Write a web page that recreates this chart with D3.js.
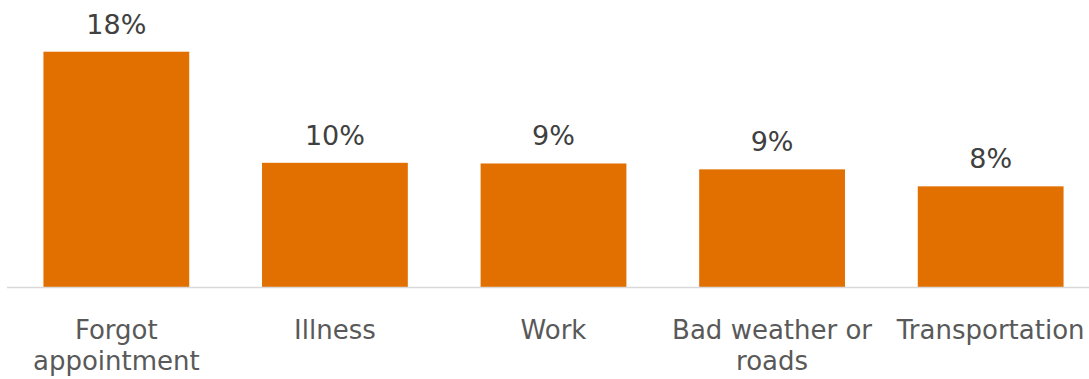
<!DOCTYPE html>
<html>
<head>
<meta charset="utf-8">
<script src="https://cdn.jsdelivr.net/npm/d3@7"></script>
<style>
  html, body { margin: 0; padding: 0; background: #ffffff; }
  svg { display: block; }
</style>
</head>
<body>
<svg id="chart" width="1089" height="379"></svg>
<script>
// Reasons for missed appointments (share of respondents, %)
const categories = ["Forgot appointment", "Illness", "Work", "Bad weather or roads", "Transportation"];
const labelLines = [["Forgot", "appointment"], ["Illness"], ["Work"], ["Bad weather or", "roads"], ["Transportation"]];
const values = [18.0, 9.5, 9.45, 9.0, 7.7];

const width = 1089, height = 379;
const baseline = 287;

const svg = d3.select("#chart");

const x = d3.scaleBand()
  .domain(categories)
  .range([7, 1100])
  .paddingInner(0.333)
  .paddingOuter(0.1667);

const y = d3.scaleLinear()
  .domain([0, 18])
  .range([baseline, 51.7]);

// Bars
svg.append("g")
  .selectAll("rect")
  .data(values)
  .join("rect")
  .attr("x", (d, i) => x(categories[i]))
  .attr("y", d => y(d))
  .attr("width", x.bandwidth())
  .attr("height", d => baseline - y(d))
  .attr("fill", "#e17000");

// Baseline axis
svg.append("line")
  .attr("x1", 7)
  .attr("x2", width)
  .attr("y1", baseline + 0.5)
  .attr("y2", baseline + 0.5)
  .attr("stroke", "#d9d9d9")
  .attr("stroke-width", 1.5);

// Value labels
svg.append("g")
  .selectAll("text")
  .data(values)
  .join("text")
  .attr("x", (d, i) => x(categories[i]) + x.bandwidth() / 2)
  .attr("y", d => y(d) - 18)
  .attr("text-anchor", "middle")
  .attr("font-family", "DejaVu Sans, sans-serif")
  .attr("font-size", 27)
  .attr("fill", "#404040")
  .text(d => Math.round(d) + "%");

// Category labels (wrapped onto two lines where needed)
const cat = svg.append("g")
  .selectAll("text")
  .data(categories)
  .join("text")
  .attr("x", d => x(d) + x.bandwidth() / 2)
  .attr("y", 339)
  .attr("text-anchor", "middle")
  .attr("font-family", "DejaVu Sans, sans-serif")
  .attr("font-size", 26)
  .attr("fill", "#595959");

cat.each(function(d, i) {
  const t = d3.select(this);
  labelLines[i].forEach((line, j) => {
    t.append("tspan")
      .attr("x", x(d) + x.bandwidth() / 2)
      .attr("dy", j === 0 ? 0 : 31)
      .text(line);
  });
});
</script>
</body>
</html>
